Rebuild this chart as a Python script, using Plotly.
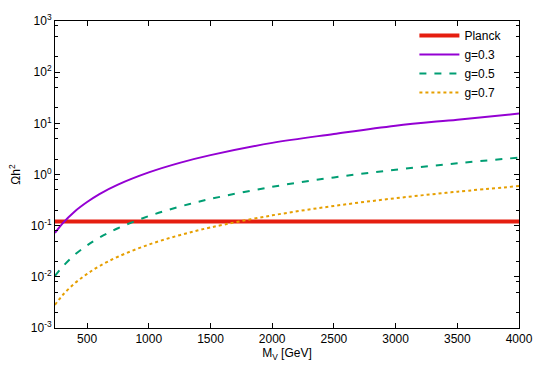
import plotly.graph_objects as go

# Data
mass = [240, 300, 400, 500, 600, 750, 1000, 1250, 1500, 2000, 2500, 3000, 3500, 4000]
omega_g03 = [0.072, 0.110, 0.19, 0.29, 0.415, 0.635, 1.10, 1.69, 2.39, 4.15, 6.2, 9.0, 11.8, 15.5]
omega_g05 = [0.0104, 0.0156, 0.027, 0.0412, 0.0583, 0.089, 0.154, 0.235, 0.333, 0.574, 0.878, 1.24, 1.66, 2.14]
omega_g07 = [0.00284, 0.00433, 0.00748, 0.0114, 0.0162, 0.0247, 0.0427, 0.0652, 0.0922, 0.159, 0.243, 0.344, 0.461, 0.594]
planck_x = [240, 4000]
planck_y = [0.12, 0.12]

y_major = [1e-3, 1e-2, 1e-1, 1e0, 1e1, 1e2, 1e3]
y_major_text = ["10<sup>-3</sup>", "10<sup>-2</sup>", "10<sup>-1</sup>", "10<sup>0</sup>",
                "10<sup>1</sup>", "10<sup>2</sup>", "10<sup>3</sup>"]
y_minor = [m * d for d in [1e-3, 1e-2, 1e-1, 1e0, 1e1, 1e2] for m in (2, 5, 8)]
x_ticks = [500, 1000, 1500, 2000, 2500, 3000, 3500, 4000]

FONT = "Liberation Sans, Arial, sans-serif"

fig = go.Figure()
fig.add_trace(go.Scatter(x=planck_x, y=planck_y, mode="lines", name="Planck",
                         line=dict(color="#e51e10", width=4)))
fig.add_trace(go.Scatter(x=mass, y=omega_g03, mode="lines", name="g=0.3",
                         line=dict(color="#9400d3", width=2, shape="spline")))
fig.add_trace(go.Scatter(x=mass, y=omega_g05, mode="lines", name="g=0.5",
                         line=dict(color="#009e73", width=2, dash="7px,8px", shape="spline")))
fig.add_trace(go.Scatter(x=mass, y=omega_g07, mode="lines", name="g=0.7",
                         line=dict(color="#e69f00", width=2, dash="3px,3px", shape="spline")))
# invisible trace to carry minor ticks on a twin axis
fig.add_trace(go.Scatter(x=[None], y=[None], yaxis="y2", showlegend=False, hoverinfo="skip"))

fig.update_layout(
    width=545, height=382,
    margin=dict(l=55, r=24, t=16, b=54),
    paper_bgcolor="white", plot_bgcolor="white",
    font=dict(family=FONT, size=12, color="black"),
    showlegend=True,
    legend=dict(x=0.975, y=1.0, xanchor="right", yanchor="top",
                bgcolor="rgba(0,0,0,0)", font=dict(size=12),
                tracegroupgap=0, itemwidth=40),
    xaxis=dict(range=[240, 4000], tickvals=x_ticks, ticks="inside", ticklen=5,
               tickcolor="black", showline=True, linecolor="black", linewidth=1,
               mirror="ticks", showgrid=False, zeroline=False, ticklabeloverflow="allow",
               title=dict(text="M<sub>V</sub> [GeV]", font=dict(size=12), standoff=0)),
    yaxis=dict(type="log", range=[-3, 3], tickvals=y_major, ticktext=y_major_text,
               ticks="inside", ticklen=5, tickcolor="black", showline=True,
               linecolor="black", linewidth=1, mirror="ticks", showgrid=False,
               zeroline=False, ticklabeloverflow="allow",
               title=dict(text="Ωh<sup>2</sup>", font=dict(size=12), standoff=7)),
    yaxis2=dict(type="log", range=[-3, 3], overlaying="y", side="left",
                tickvals=y_minor, ticks="inside", ticklen=3, tickcolor="black",
                showticklabels=False, showgrid=False, zeroline=False,
                showline=True, linecolor="black", linewidth=1, mirror="ticks"),
)

# remove the default page margin so the figure sits at the window origin
fig.write_html("out.html", config={"displayModeBar": False},
               post_script="document.body.style.margin='0';")
